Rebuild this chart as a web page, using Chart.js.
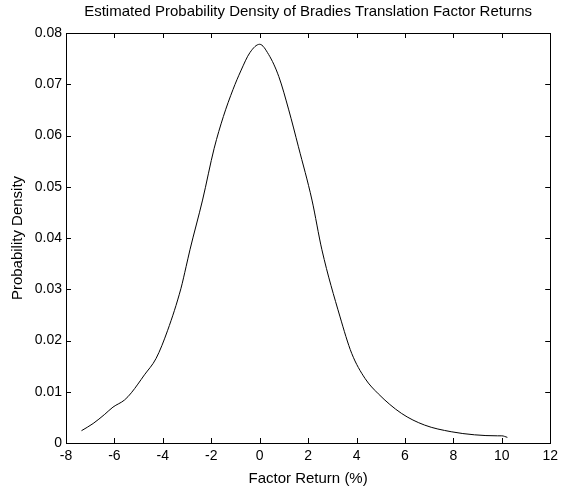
<!DOCTYPE html>
<html>
<head>
<meta charset="utf-8">
<script src="https://cdn.jsdelivr.net/npm/chart.js@4"></script>
<style>
  body { margin: 0; background: #fff; }
  #wrap { width: 563px; height: 493px; }
</style>
</head>
<body>
<div id="wrap"><canvas id="chart" width="563" height="493"></canvas></div>
<script>
// factor return (%) and estimated density
const returns = [-7.36, -6.88, -6.4, -6.06, -5.58, -5.3, -4.76, -4.28, -3.8, -3.25, -3.04, -2.88,
  -2.36, -1.88, -1.5, -1.1, -0.78, -0.4, 0, 0.37, 0.79, 1.2, 1.6, 2.16, 2.57, 3.32, 3.8,
  4.35, 4.9, 5.85, 6.81, 7.91, 8.87, 9.82, 10.0, 10.23];
const density = [0.0024, 0.0038, 0.0056, 0.007, 0.0084, 0.0098, 0.0133, 0.0165, 0.022, 0.0302, 0.0344, 0.0377,
  0.0474, 0.0575, 0.0637, 0.0690, 0.0726, 0.0762, 0.0778, 0.0758, 0.0715, 0.065, 0.0578, 0.0474, 0.0377,
  0.0246, 0.0175, 0.0126, 0.0096, 0.0058, 0.0035, 0.0022, 0.0016, 0.0014, 0.0014, 0.0011];
const xTicks = [-8, -6, -4, -2, 0, 2, 4, 6, 8, 10, 12];
const yTicks = [0, 0.01, 0.02, 0.03, 0.04, 0.05, 0.06, 0.07, 0.08];

const FONT = "'Liberation Sans', Arial, sans-serif";

// matlab style box with inward ticks on all four sides
const boxTicks = {
  id: 'boxTicks',
  afterDraw(chart) {
    const { ctx, chartArea: a, scales: { x, y } } = chart;
    ctx.save();
    ctx.strokeStyle = '#000';
    ctx.lineWidth = 1;
    ctx.beginPath();
    xTicks.forEach(v => {
      const px = Math.round(x.getPixelForValue(v)) + 0.5;
      ctx.moveTo(px, a.bottom); ctx.lineTo(px, a.bottom - 5);
      ctx.moveTo(px, a.top); ctx.lineTo(px, a.top + 5);
    });
    yTicks.forEach(v => {
      const py = Math.round(y.getPixelForValue(v)) + 0.5;
      ctx.moveTo(a.left, py); ctx.lineTo(a.left + 5, py);
      ctx.moveTo(a.right, py); ctx.lineTo(a.right - 5, py);
    });
    ctx.stroke();
    ctx.strokeRect(Math.round(a.left) + 0.5, Math.round(a.top) + 0.5,
      Math.round(a.right - a.left), Math.round(a.bottom - a.top));
    ctx.restore();
  }
};

new Chart(document.getElementById('chart'), {
  type: 'scatter',
  data: {
    datasets: [{
      data: returns.map((r, i) => ({ x: r, y: density[i] })),
      showLine: true,
      borderColor: '#000',
      borderWidth: 1,
      pointRadius: 0,
      cubicInterpolationMode: 'monotone'
    }]
  },
  options: {
    responsive: false,
    animation: false,
    layout: { padding: { left: 0, right: 10, top: 0, bottom: 0 } },
    plugins: {
      legend: { display: false },
      tooltip: { enabled: false },
      title: {
        display: true,
        fullSize: false,
        text: 'Estimated Probability Density of Bradies Translation Factor Returns',
        color: '#000',
        font: { family: FONT, size: 15, weight: 'normal' },
        padding: { top: 3, bottom: 12 }
      }
    },
    scales: {
      x: {
        type: 'linear',
        min: -8, max: 12,
        afterBuildTicks: s => { s.ticks = xTicks.map(v => ({ value: v })); },
        afterFit: s => { s.height = 50; },
        grid: { display: false, drawTicks: false },
        border: { display: false },
        ticks: { color: '#000', font: { family: FONT, size: 14 }, padding: 5 },
        title: {
          display: true, text: 'Factor Return (%)', color: '#000',
          font: { family: FONT, size: 15 }, padding: { top: 4, bottom: 5 }
        }
      },
      y: {
        min: 0, max: 0.08,
        afterBuildTicks: s => { s.ticks = yTicks.map(v => ({ value: v })); },
        afterFit: s => { s.width = 66; },
        grid: { display: false, drawTicks: false },
        border: { display: false },
        ticks: {
          color: '#000', font: { family: FONT, size: 14 }, padding: 4,
          callback: v => v === 0 ? '0' : v.toFixed(2)
        },
        title: {
          display: true, text: 'Probability Density', color: '#000',
          font: { family: FONT, size: 15 }, padding: { top: 9, bottom: 0 }
        }
      }
    }
  },
  plugins: [boxTicks]
});
</script>
</body>
</html>
